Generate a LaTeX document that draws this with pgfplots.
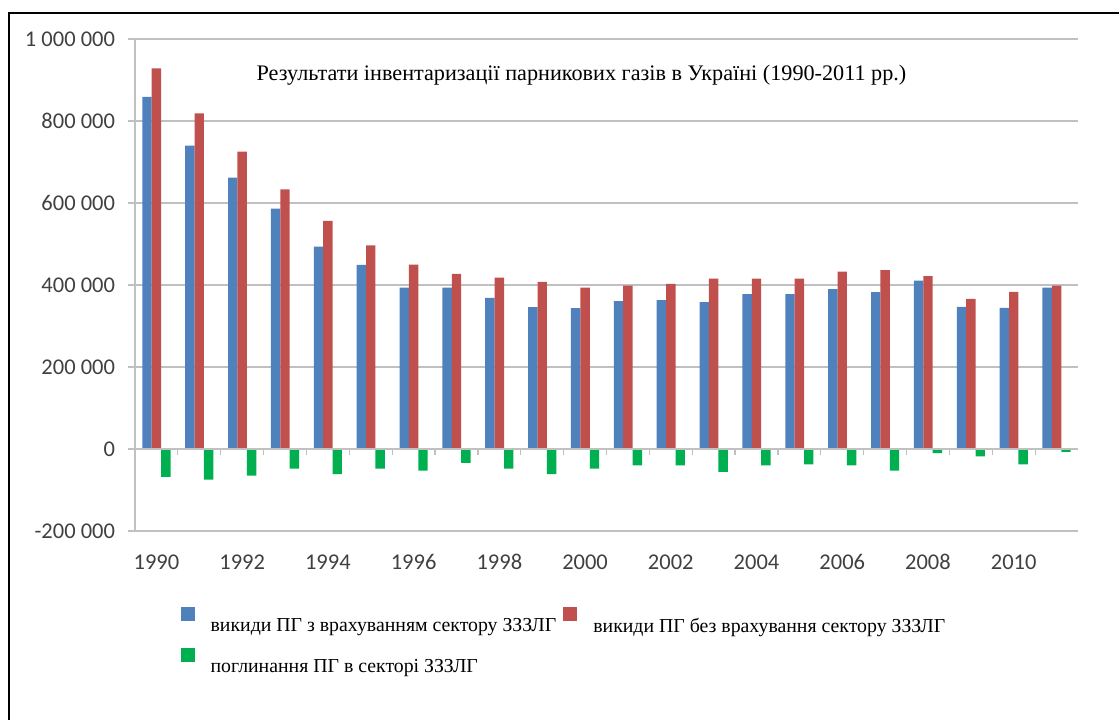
\documentclass[border=0pt]{standalone}
\usepackage{pgfplots}
\usepackage{pgfplotstable}
\pgfplotsset{compat=1.18}
\usepackage{fontspec}
\setmainfont{Liberation Serif}
\newfontfamily\tickfont{Carlito}
\definecolor{cblue}{HTML}{4F81BD}
\definecolor{cred}{HTML}{C0504D}
\definecolor{cgreen}{HTML}{00B050}
\definecolor{cgrid}{HTML}{C0C0C0}
\definecolor{ctext}{HTML}{404040}

\pgfplotstableread{
x year with without absorb
0 1990 859000 928500 -68200
1 1991 739800 818800 -74800
2 1992 661700 725200 -65100
3 1993 586100 633400 -48000
4 1994 493400 556100 -61000
5 1995 448800 496800 -48000
6 1996 393800 449900 -52900
7 1997 393800 427200 -34100
8 1998 368700 418200 -48000
9 1999 346000 407700 -61000
10 2000 343600 393800 -48000
11 2001 360700 398700 -39900
12 2002 363100 402800 -39900
13 2003 358200 415800 -56100
14 2004 377700 415800 -39900
15 2005 377700 415800 -37500
16 2006 389900 432800 -39900
17 2007 382600 436100 -52900
18 2008 410900 421600 -9800
19 2009 346800 366300 -18000
20 2010 344400 383300 -37500
21 2011 393800 398700 -7300
}\datatable

\begin{document}
\begin{tikzpicture}[x=1pt,y=1pt]
\useasboundingbox (0,0) rectangle (1119,720);
\draw[line width=2.7pt, line cap=rect] (9,0) -- (9,707) -- (1125,707);
\begin{axis}[
  at={(135pt,189pt)}, anchor=south west,
  scale only axis, width=943pt, height=492pt,
  xmin=-0.5, xmax=21.5, ymin=-200000, ymax=1000000,
  scaled y ticks=false,
  ybar=0pt, bar width=9.4pt,
  axis x line*=bottom, axis y line*=left,
  axis line style={cgrid, line width=1.2pt, -},
  ymajorgrids, grid style={cgrid, line width=1.2pt},
  ytick={-200000,0,200000,400000,600000,800000,1000000},
  yticklabels={-200 000,0,200 000,400 000,600 000,800 000,1 000 000},
  xtick={0,2,4,6,8,10,12,14,16,18,20},
  xticklabels={1990,1992,1994,1996,1998,2000,2002,2004,2006,2008,2010},
  tick align=outside,
  major tick length=7pt,
  xtick style={draw=none},
  ytick style={cgrid, line width=1.2pt},
  ticklabel style={font=\tickfont\fontsize{22.5}{26}\selectfont, text=ctext},
  yticklabel style={xshift=-9.5pt},
  xticklabel style={yshift=-13pt},
  legend columns=2,
  legend style={at={(0.045,-0.150)}, anchor=north west, draw=none, fill=none,
    font=\fontsize{19.8}{23}\selectfont, row sep=12pt,
    /tikz/every even column/.append style={column sep=5pt}},
  legend image code/.code={\fill[#1] (0pt,5pt) rectangle (14pt,19pt); \path[draw=none,fill=none] (0pt,0pt) rectangle (28pt,1pt);},
  legend cell align=left,
]
\addplot[fill=cblue, draw=none] table[x=x, y=with] {\datatable};
\addplot[fill=cred, draw=none] table[x=x, y=without] {\datatable};
\addplot[fill=cgreen, draw=none] table[x=x, y=absorb] {\datatable};
\legend{викиди ПГ з врахуванням сектору ЗЗЗЛГ, викиди ПГ без врахування сектору ЗЗЗЛГ, поглинання ПГ в секторі ЗЗЗЛГ}
\draw[cgrid, line width=1.2pt] (axis cs:-0.5,0) -- (axis cs:21.5,0);
\pgfplotsinvokeforeach{0,...,20}{\draw[cgrid, line width=1.2pt] (axis cs:#1.5,0) -- ++(0pt,-6pt);}
\node[font=\fontsize{22.2}{26}\selectfont] at (rel axis cs:0.4735,0.927) {Результати інвентаризації парникових газів в Україні (1990-2011 рр.)};
\end{axis}
\end{tikzpicture}
\end{document}
